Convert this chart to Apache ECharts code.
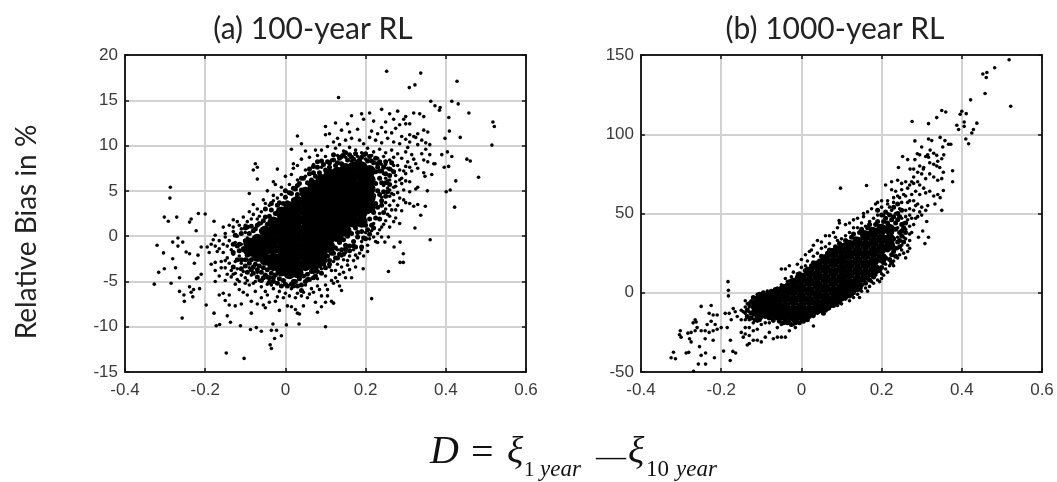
<!DOCTYPE html>
<html>
<head>
<meta charset="utf-8">
<title>Relative bias vs D</title>
<script src="https://cdn.jsdelivr.net/npm/echarts@6/dist/echarts.min.js"></script>
<style>
  html, body { margin: 0; padding: 0; background: #fff; }
  /* the reference is a soft scan */
  #chart { width: 1057px; height: 482px; filter: blur(0.4px); }
</style>
</head>
<body>
<div id="chart"></div>
<script>
// tick labels / ranges
const xTicks = [-0.4, 0.6, 0.2]
const yTicksA = [-15, 20, 5]
const yTicksB = [-50, 150, 50]
const titles = ['(a) 100-year RL', '(b) 1000-year RL']
const yName = 'Relative Bias in %'

// panel (a): single dots read from the sparse part of the cloud
const dotsA = [
  [.2525,18.2],[.3375,18],[.323,16.7],[.309,16.4],[.428,17.1],[.1325,15.3],[.3625,14.9],[.415,14.9],[.431,14.6],[.373,14.4],
  [.386,14.2],[.384,13.9],[.4575,13.6],[.5175,12.6],[.521,12.1],[.515,10.05],[.4075,13.1],[.409,11.6],[.436,10.9],[.398,10.8],
  [.404,9.3],[.415,8.8],[.39,9],[.4525,8.5],[.461,8.3],[.4817,6.5],[.425,6.1],[.396,7.6],[.407,7.7],[.373,8],[.365,6.8],[.348,6.6],
  [.354,5],[.401,4.9],[.411,5.1],[.422,3.2],[.349,3.3],[.3375,2.3],[.323,.9],[.361,-.4],[.257,-3.9],[.215,-6.9],[.194,-3.6],[.1,-10],
  [.286,-2.9],[.294,-2.9],[.294,-1.95],[.286,-.66],[.271,-1.2],[.248,-.66],[.257,-.1],
  [-.035,-12.4],[-.038,-12],[-.103,-13.5],[-.1475,-12.9],[-.027,-11.3],[-.01,-11],[.0025,-9.8],[.034,-9.7],[-.022,-10.4],[-.035,-10.4],
  [-.031,-9.7],[-.06,-10.5],[-.0725,-10.1],[-.087,-10.3],[-.112,-9.9],[-.137,-9.5],[-.164,-9.75],[-.1725,-9.9],[-.145,-8.8],[-.178,-8.5],
  [-.2575,-9.05],[-.1975,-7.6],[-.327,-5.3],[-.285,-5.2],[-.32,-1],[-.304,-1.85],[-.316,-4],[-.302,-3.6],[-.287,5.4],[-.288,4.2],
  [-.302,2.1],[-.292,1.65],[-.271,2.1],[-.239,1.55],[-.235,1.9],[-.217,2.5],[-.2,2.45],[-.178,1.65],[-.2225,.6],[-.281,-.66],
  [-.268,-.2],[-.256,-.66],[-.268,-1.1],[-.2475,-1.75],[-.239,-1.95],[-.281,-2.5],[-.274,-3.5],[-.264,-4.6],[-.264,-6.1],[-.253,-6.5],
  [-.252,-7.2],[-.239,-5.6],[-.235,-6.2],[-.229,-5.9],[-.231,-6.7],[-.214,-5.8],[-.218,-4.6],[-.222,-4.7],[-.21,-4.2],[-.227,-3],[-.218,-2.1],[-.21,-1.2],
  [.19,13.5],[.21,13.6],[.24,14],[.26,13.5],[.28,13.8],[.3,13.2],[.32,13.6],[.335,13.5],[.345,13.2],[.165,13.3],[.195,12.9],[.22,12.7],
  [.25,12.6],[.27,12.9],[.285,12.3],[.295,12.9],[.3,12.4],[.31,12.4],[.125,12.5],[.1,12.1],[.155,12.4],
  [.1,11.2],[.11,11.3],[.14,11.7],[.16,11.5],[.18,11.8],[.215,11.6],[.24,12],[.23,11.3],[.25,11.5],[.265,11.4],[.275,11.9],[.33,11.3],
  [.345,11.7],[.355,11.5],[.29,11],[.31,11.2],[.32,11],[.03,11.05],
  [.04,10.2],[.015,9.6],[.13,10.8],[.15,10.6],[.12,10.4],[.135,10.1],[.165,10.8],[.185,10.6],[.195,10.2],[.21,10.9],[.225,10.6],[.24,10.3],
  [.255,10.8],[.27,10.4],[.285,10.2],[.3,10.7],[.31,10.4],[.325,10.9],[.34,10.6],[.35,10.3],[.36,10.1],[.33,10.1],
  [.05,9.4],[.075,9.5],[.09,9.5],[.105,9.9],[.125,9.7],[.145,9.4],[.16,9.8],[.175,9.5],[.19,9.2],[.205,9.7],[.22,9.3],[.235,9.6],[.25,9.2],
  [.265,9.5],[.28,9.1],[.305,9.8],[.315,9],[.34,9.1],[.35,9.6],[.36,9],[.3,9.3],
  [.02,8],[.04,8.5],[.06,8.7],[.08,8.9],[.1,8.8],[.115,8.4],[.13,8.9],[.15,8.7],[.165,8.3],[.18,8.8],[.2,8.5],[.215,8.9],[.23,8.6],[.245,8.8],
  [.26,8.4],[.27,8.7],[.29,8.6],[.305,8.2],[.32,8.5],[.345,8.4],[.355,8.2],[.37,8],[.325,8],
  [-.07,7.6],[-.08,7.3],[-.075,8],[-.02,7.4],[.02,7.5],[.03,7.8],[.05,7.3],[.07,7.9],[.09,7.6],[.24,7.9],[.255,7.5],[.27,7.8],[.285,7.3],
  [.3,7.7],[.315,7.2],[.33,7.5],[.345,7],
  [-.07,6.3],[-.03,6],[-.025,5.7],[0,6.6],[.015,6.8],[.03,6.2],[.05,6.6],[.245,6.9],[.26,6.2],[.275,6.7],[.29,6.4],[.3,6.9],[.31,6],[.275,6],[.25,6.4],
  [-.09,4.7],[-.045,5],[-.03,4.5],[-.01,5.4],[.01,5.7],[.245,5.6],[.26,5.1],[.275,5.5],[.29,5.8],[.295,5.1],[.31,4.9],[.325,5.2],[.33,5.4],[.265,4.7],[.28,4.8],
  [-.08,3.5],[-.07,3],[-.055,4],[-.04,3.4],[-.02,4.2],[-.06,2.7],[.24,4.3],[.25,3.7],[.26,4.4],[.27,3.9],[.28,3.4],[.295,4],[.31,3.6],[.32,3.3],[.33,3.5],[.25,3],[.265,2.9],
  [-.12,1.6],[-.13,1.8],[-.105,2.1],[-.09,2.7],[-.1,1.2],[-.085,1.9],[-.07,1.9],[-.06,1.4],[-.155,1],[-.14,1.2],[-.11,.8],[.22,2.8],[.235,2.5],
  [.25,1.7],[.26,2.2],[.27,1.6],[.275,2],[.285,1.4],[.22,1.4],[.24,1],[.215,.6],[.23,.3],
  [-.175,.1],[-.15,.3],[-.13,.5],[-.12,0],[-.1,.4],[-.095,-.2],[-.165,-.5],[-.18,-.4],[-.185,-.9],[-.175,-1.1],[-.195,-1.2],[-.155,-.9],[-.14,-.5],
  [-.125,-.7],[-.11,-.9],[.2,.4],[.21,-.3],[.225,-.6],[.24,-.1],[.205,-1],[.19,-.6],
  [-.17,-1.7],[-.155,-1.8],[-.19,-1.8],[-.135,-1.5],[-.145,-2.4],[-.13,-2],[-.115,-2.2],[-.105,-1.6],[-.16,-2.8],[-.175,-2.9],[-.185,-3.1],[-.14,-3],
  [-.125,-2.8],[-.11,-3],[-.095,-2.6],[.13,-1.5],[.15,-1.8],[.17,-1.5],[.185,-1.9],[.16,-2.2],[.18,-2.4],[.17,-2.7],[.145,-2.6],[.195,-2.2],[.12,-2.8],
  [-.175,-3.8],[-.165,-4.4],[-.15,-3.5],[-.135,-3.8],[-.12,-3.6],[-.105,-3.9],[-.09,-3.5],[-.135,-4.5],[-.12,-4.8],[-.1,-4.6],[-.085,-4.3],[-.07,-4],[-.15,-4.9],
  [.07,-4],[.09,-3.6],[.11,-3.4],[.125,-3.8],[.14,-3.4],[.155,-3.2],[.1,-4.4],[.125,-4.6],[.15,-4.6],[.08,-4.7],[.135,-4.2],[.165,-4.6],
  [-.175,-5],[-.165,-6.5],[-.155,-6.3],[-.14,-6.5],[-.125,-5.3],[-.115,-5.9],[-.105,-6.2],[-.09,-5.4],[-.075,-5],[-.06,-5.6],[-.095,-6.5],[-.045,-5.3],
  [-.03,-5.8],[-.015,-6.1],[0,-6.3],[.015,-5.8],[.03,-6.3],[.05,-5.4],[.065,-5.8],[.08,-5.5],[.1,-5.4],[.12,-5.2],[.135,-5.5],[.14,-6],[.045,-6.2],[.09,-6.6],[.06,-6.4],
  [-.15,-7.1],[-.14,-7.6],[-.125,-7.7],[-.11,-7.5],[-.085,-7.2],[-.07,-7.5],[-.055,-7.6],[-.04,-7.3],[-.025,-7.2],[-.015,-8.2],[.005,-7.7],[.015,-7.8],
  [.025,-8.1],[.03,-8.5],[.045,-7.7],[.075,-7.3],[.09,-7.8],[.1,-7.3],[.115,-7.2],[.12,-7.4],[.035,-8.6],[.08,-8.4],[-.085,-8.5],[-.05,-7.9],
  [-.125,-4.1],[-.11,-4.3],[-.095,-4.9],[-.08,-5.2],[-.065,-4.9],[-.05,-6.1],[-.035,-5.4],[-.02,-6.7],[-.005,-6.8],[.01,-6.6],[.025,-6.8],[.04,-6.6],[.055,-6.8],[.07,-6.2],
  [.085,-5.9],[.105,-5.9],[.115,-4.9],[.13,-5],[.145,-4],[.16,-3.7],[.175,-3.4],[.105,-6.6],[-.075,-6.1],[-.06,-6.8],[-.045,-6.5],[-.1,-5.2],[-.115,-5],[-.13,-4.2],
  [-.145,-4.2],[-.16,-3.5],[-.15,-2.7],[-.165,-1.4],[-.145,-1.1],[-.15,-.1],[-.13,1],[-.115,1.2],[-.095,1.6],[-.08,2.4],[-.065,2.2],[-.05,3.6],[-.03,3.9],[-.01,4.6],
  [.25,7.9],[.265,7.3],[.28,7.8],[.295,7.2],[.31,7.6],[.255,6.1],[.27,5.4],[.285,6.2],[.3,6.1],[.255,5.3],[.27,4.6],[.285,4.2],[.3,3.7],[.26,3.4],[.275,2.9],[.29,2.8],
  [.255,2.4],[.245,1.3],[.26,1],[.235,.7],[.22,-.1],[.23,-.7],[.205,-1.7],[.19,-1.5],[.175,-2.1],[.155,-2.7],[.14,-2.2],[.13,-3.1],[.115,-3.8]
]

// panel (a): crowded dots hugging the solid middle
const crowdA = [
  [-.1,.9],[-.09,.3],[-.085,1.1],[-.075,.8],[-.065,1.4],[-.06,.6],[-.055,1.7],[-.045,1.3],[-.04,2.2],[-.035,2.9],[-.025,2.5],[-.02,3.4],[-.015,2.9],[-.005,3.6],
  [0,4.3],[.005,3.7],[.015,4.7],[.02,4],[.025,5.2],[.03,4.6],[.035,5.8],[.04,5.1],[.045,6.4],[.055,5.9],[.06,6.9],[.065,6.2],[.07,7],[.075,6.6],[.08,7.6],[.085,7],
  [.095,7.9],[.1,7.3],[.105,8.2],[.11,7.6],[.12,8.4],[.125,7.8],[.135,8.6],[.14,8],[.145,9],[.155,8.4],[.16,9],[.17,8.5],[.175,9.1],[.185,8.4],[.195,9],[.205,8.3],
  [.21,8.8],[.22,8.1],[.225,8.6],[.23,7.6],[.235,8.2],[.24,7.2],[.225,7.1],[.235,6.4],[.225,5.8],[.24,5.9],[.23,5],[.22,4.5],[.235,4.6],[.245,4.9],[.225,3.6],
  [.24,3.4],[.21,3.4],[.22,2.6],[.205,2.7],[.195,2],[.21,1.9],[.2,1.2],[.185,1.3],[.175,.9],[.19,.5],[.165,.3],[.18,-.1],[.155,0],[.17,-.6],[.145,-.4],[.16,-1.1],
  [.135,-.7],[.15,-1],[.125,-1.3],[.14,-1.5],[.115,-1.9],[.13,-2.4],[.105,-2.2],[.12,-1.9],[.095,-3.1],[.11,-2.7],[.085,-3.3],[.1,-3.5],[.075,-3.8],[.09,-4.1],
  [.065,-3.9],[.08,-3.9],[.055,-4.2],[.07,-4.6],[.045,-4.4],[.06,-4.8],[.035,-4.7],[.05,-5],[.025,-5],[.04,-5.4],[.015,-5.3],[.03,-5.5],[.005,-5.5],[.02,-5],
  [-.005,-4.9],[-.015,-4.7],[-.025,-4.3],[-.02,-5.2],[-.035,-4.1],[-.03,-5],[-.045,-3.7],[-.04,-4.6],[-.055,-3.5],[-.05,-4.3],[-.065,-3.3],[-.06,-4],[-.075,-3.1],
  [-.07,-3.7],[-.085,-2.6],[-.08,-3.4],[-.095,-2.1],[-.09,-3],[-.105,-1.4],[-.1,-2.6],[-.115,-.9],[-.1,-.5],[-.09,-.5],[-.085,-1.5],[-.1,-1.3],
  [.245,7.6],[.25,8.2],[.26,7.4],[.265,8.1],[.235,7.2],[.25,6.9],[.26,6.7],[.27,7.1],[.25,5.9],[.26,5.7],[.255,4.9],[.25,4.4],[.24,3.9],[.23,3.2],[.245,2.6],[.235,1.9],
  [.225,2],[.215,1.2],[.205,.7],[.18,.4],[.195,-.2],[.17,-1.1],[.15,-1.4],[.135,-2],[.125,-2.4],[.11,-3.1],[.09,-3],[.075,-4.4],[.055,-4.8],[.04,-6],[.02,-5.5],
  [0,-5.3],[-.01,-5.5],[-.03,-4.6],[-.04,-5.1],[-.055,-4.6],[-.07,-4.5],[-.085,-3.7],[-.1,-3.3],[-.11,-2.6],[-.115,-1.6],[-.12,-1.1],[-.125,.1],[-.11,.3],[-.095,1],
  [-.08,.6],[-.07,1.2],[-.05,2.1],[-.05,3],[-.035,3.6],[-.015,3.7],[0,5],[.01,4.8],[.02,5.3],[.03,5.6],[.04,6.4],[.06,7.4],[.07,7.7],[.08,8.2],[.09,8.3],[.11,8.1],
  [.12,9],[.13,8.1],[.14,8.8],[.15,9.2],[.165,8.7],[.18,8.2],[.19,8.7],[.2,9.1],[.215,8.3],[.23,8],[-.13,-.9],[-.13,-1.8],[-.12,-2.6],[-.13,-3.4],[-.11,-3.6],[-.095,-4],
  [-.08,-4.1],[-.06,-4.9],[-.045,-4.5],[.145,-2],[.16,-1.6],[.175,-1.2],[.19,-1.2],[.2,-.3],[.21,.2],[.22,.9]
]

// panel (a): the solid black middle of the cloud, too dense to read dot by dot
const denseA = [
  [-.09,-.8],[-.09,-1.6],[-.07,-.4],[-.07,-1.4],[-.07,-2.2],[-.05,.5],[-.05,-.5],[-.05,-1.5],[-.05,-2.6],
  [-.03,1.5],[-.03,.6],[-.03,-.4],[-.03,-1.4],[-.03,-2.5],[-.03,-3.2],
  [-.01,2.6],[-.01,1.6],[-.01,.6],[-.01,-.4],[-.01,-1.4],[-.01,-2.4],[-.01,-3.4],[-.01,-3.8],
  [.01,3.2],[.01,2.3],[.01,1.3],[.01,.3],[.01,-.7],[.01,-1.7],[.01,-2.7],[.01,-3.7],[.01,-4.1],
  [.03,3.8],[.03,2.8],[.03,1.8],[.03,.8],[.03,-.2],[.03,-1.2],[.03,-2.2],[.03,-3.2],[.03,-4],
  [.05,4.8],[.05,3.8],[.05,2.8],[.05,1.8],[.05,.8],[.05,-.2],[.05,-1.2],[.05,-2.2],[.05,-3.2],
  [.07,5.6],[.07,4.6],[.07,3.6],[.07,2.6],[.07,1.6],[.07,.6],[.07,-.4],[.07,-1.4],[.07,-2.4],[.07,-3.2],
  [.09,6.2],[.09,5.2],[.09,4.2],[.09,3.2],[.09,2.2],[.09,1.2],[.09,.2],[.09,-.8],[.09,-1.8],[.09,-2.6],
  [.11,6.8],[.11,5.8],[.11,4.8],[.11,3.8],[.11,2.8],[.11,1.8],[.11,.8],[.11,-.2],[.11,-1.2],
  [.13,7],[.13,6],[.13,5],[.13,4],[.13,3],[.13,2],[.13,1],[.13,0],
  [.15,7.4],[.15,6.4],[.15,5.4],[.15,4.4],[.15,3.4],[.15,2.4],[.15,1.4],[.15,.6],
  [.17,7.6],[.17,6.6],[.17,5.6],[.17,4.6],[.17,3.6],[.17,2.6],[.17,1.6],
  [.19,7.6],[.19,6.6],[.19,5.6],[.19,4.6],[.19,3.6],[.19,2.6],[.19,1.6],
  [.21,7.2],[.21,6.2],[.21,5.2],[.21,4.2],[.21,3.2]
]

// panel (b): single dots
const dotsB = [
  [.518,147],[.482,142],[.4625,139],[.4525,138],[.461,135.8],[.458,125.7],[.522,117.7],[.422,121.7],[.35,115],[.36,114],[.3375,110.5],[.317,106.7],[.276,108],
  [.4,114.5],[.396,112.6],[.411,113],[.406,107.7],[.406,105],[.4375,107],[.3875,105.7],[.392,103],[.429,103],[.425,100.8],[.41,97],[.417,94],[.283,95.8],
  [.317,97],[.325,96],[.346,98],[.358,96],[.367,93.7],[.3525,92],[.3725,93.7],[.321,90],[.289,87.7],[.2525,86],[.283,84],[.317,85.5],[.3375,86.7],[.35,84.5],
  [.242,79],[.271,78],[.304,78],[.377,77],[.377,70],[.354,76],[.3375,80],[.0975,66],[.1625,67.7],[.354,64.5],[.346,60],[.35,52],[.333,56],[.3125,45],[.3025,39],
  [.292,35],[.317,35],[.308,31],[.094,45.6],
  [-.325,-41],[-.314,-41.6],[-.319,-37.5],[-.302,-24],[-.3,-28],[-.304,-26.5],[-.283,-25.5],[-.279,-29],[-.275,-31],[-.2875,-38],[-.281,-37.6],[-.269,-49.5],
  [-.257,-45],[-.239,-45],[-.254,-34],[-.25,-39.5],[-.239,-38],[-.217,-41],[-.1775,-42.7],[-.194,-36.8],[-.171,-37],[-.164,-38],[-.177,-30],[-.183,7],[-.182,1.5],
  [-.182,-2],[-.25,-8.6],[-.225,-8],[-.2625,-18.5],
  [.21,68],[.225,70],[.24,71],[.25,69],[.26,70],[.225,65],[.235,64],[.25,65],[.265,66],[.27,68],[.275,70],[.28,69],[.29,70],[.295,68],[.305,66],[.31,63],[.285,64],
  [.295,62],[.32,64],[.33,61],[.34,62],[.275,62],[.26,61],[.245,60],[.23,60],[.215,58],[.2,58],[.19,57],[.185,56],[.2,54],[.215,56],[.25,57],[.265,57],[.28,58],
  [.29,56],[.3,54],[.31,52],[.315,55],[.295,51],[.28,52],[.27,53],[.26,52],[.245,53],[.235,50],[.225,52],[.175,53],[.165,51],[.155,50],[.155,48],[.14,47],[.13,46],
  [.12,44],[.11,43],[.095,44],[.09,41],[.08,38],[.07,36],[.06,36],[.05,32],[.04,33],[.03,30],[.02,26],[.01,24],[.025,27],[0,21],[-.01,18],[-.03,17],[-.04,15],[-.05,15],
  [.3,92],[.31,86],[.32,82],[.33,81],[.34,83],[.345,79],[.35,72],[.34,71],[.33,73],[.32,75],[.31,72],[.3,75],[.29,76],[.28,73],[.305,79],[.295,80],[.33,88],[.315,87],
  [.355,87],[.295,87],[.265,84],[.28,78],
  [.27,28],[.265,26],[.255,25],[.26,22],[.245,24],[.24,28],[.25,30],[.255,35],[.27,37],[.26,40],[.27,42],[.255,44],[.24,41],[.25,47],[.26,48],[.27,49],[.265,46],[.24,35],
  [.23,20],[.22,17],[.21,15],[.2,12],[.2,9],[.21,18],[.19,8],[.185,11],[.175,7],[.17,4],[.16,3],[.15,1],[.14,-1],[.13,-3],[.12,-5],[.11,-4],[.1,-7],[.09,-8],[.08,-6],
  [.07,-10],[.06,-9],[.05,-12],[.04,-13],[.02,-14],[.03,-15],[.01,-16],[0,-17],[-.01,-18],[-.02,-20],[-.03,-18],[-.05,-20],[-.06,-22],[-.03,-24],[-.04,-28],[-.05,-28],
  [-.06,-28],[-.07,-29],[-.015,-22],[.03,-21],[-.08,-25],[-.09,-28],[-.1,-31],[-.11,-30],[-.12,-30],[-.13,-32],[-.135,-33],[-.145,-28],[-.15,-25],[-.14,-26],[-.13,-27],
  [-.12,-24],[-.11,-23],[-.1,-20],[-.09,-19],[-.08,-19],[-.07,-18],[-.13,-22],[-.14,-22],[-.12,-19],[-.11,-18],[-.1,-16],[-.15,-17],[-.14,-17],[-.13,-17],[-.12,-14],
  [-.14,-13],[-.15,-11],[-.14,-9],[-.13,-9],[-.12,-8],[-.14,-5],[-.135,-7],[-.125,-5],[-.11,-5],[-.11,-1],[-.1,-2],[-.12,-11],[-.13,-12],[-.145,-12],[-.16,-15],[-.165,-12],
  [-.17,-10],[-.18,-13],[-.19,-13],[-.175,-17],[-.185,-22],[-.2,-22],[-.21,-14],[-.22,-14],[-.23,-13],[-.215,-20],[-.225,-18],[-.235,-20],[-.24,-24],[-.25,-24],[-.22,-24],
  [-.265,-17],[-.27,-19],[-.26,-22],[-.23,-25],[-.21,-23],[-.22,-30],[-.24,-29],[-.265,-24],[-.275,-25],
  [-.1,-1],[-.085,1],[-.07,1],[-.06,3],[-.05,5],[-.04,9],[-.035,7],[-.025,10],[-.02,13],[-.01,12],[0,16],[.01,17],[.015,20],[.03,23],[.04,25],[.05,28],[.06,29],[.07,31],
  [.075,27],[.085,35],[.09,33],[.1,34],[.11,36],[.12,38],[.13,41],[.14,41],[.15,44],[.16,42],[.17,45],[.18,47],[.19,49],
  [.205,49],[.215,50],[.22,54],[.23,57],[.24,61],[.255,62],[.27,58],[.275,47],[.28,43],[.275,38],[.27,33],[.265,30],[.26,34],[.25,27],[.24,22],[.23,17],[.215,13],[.205,11],
  [.195,7],[.18,6],[.165,1],[.145,-3],[.285,55],[.29,48],[.3,49],[.285,47]
]

// panel (b): crowded dots along the edges of the band
const crowdB = [
  [-.125,-6],[-.12,-3],[-.115,-9],[-.11,-3],[-.105,-1],[-.095,0],[-.09,-2],[-.085,-1],[-.075,1],[-.07,-1],[-.065,2],[-.055,1],[-.05,3],[-.045,4],[-.035,5],[-.03,7],[-.025,6],
  [-.015,8],[-.01,10],[-.005,12],[.005,11],[.01,14],[.015,15],[.025,17],[.03,19],[.035,18],[.045,20],[.05,23],[.055,22],[.065,25],[.07,27],[.075,26],[.085,29],[.09,28],
  [.095,31],[.105,30],[.11,33],[.115,32],[.125,35],[.13,37],[.135,34],[.145,38],[.15,40],[.155,38],[.165,41],[.17,43],[.175,40],[.185,43],[.19,45],[.195,42],[.205,45],
  [.21,47],[.215,44],[.225,46],[.23,48],[.235,44],[.24,46],[.245,48],[.25,43],[.245,38],[.235,40],[.225,38],[.23,34],[.24,32],[.235,28],[.245,33],[.25,39],[.225,32],
  [.23,26],[.225,24],[.215,27],[.22,21],[.21,22],[.2,16],[.205,19],[.195,14],[.19,16],[.18,10],[.185,14],[.17,8],[.175,11],[.16,6],[.165,9],[.15,5],[.155,8],[.14,2],
  [.145,3],[.13,0],[.135,2],[.12,-2],[.125,-1],[.11,-3],[.115,-1],[.1,-4],[.105,-2],[.09,-5],[.095,-6],[.08,-8],[.085,-7],[.07,-7],[.075,-8],[.06,-11],[.065,-10],
  [.05,-10],[.055,-13],[.04,-12],[.045,-11],[.03,-14],[.035,-12],[.02,-15],[.025,-13],[.01,-15],[.015,-17],[0,-16],[.005,-18],[-.01,-16],[-.005,-19],[-.02,-17],[-.015,-19],
  [-.03,-16],[-.025,-20],[-.04,-17],[-.035,-19],[-.05,-16],[-.045,-19],[-.06,-16],[-.055,-18],[-.07,-17],[-.065,-15],[-.08,-16],[-.075,-14],[-.09,-15],[-.085,-13],[-.1,-14],
  [-.095,-12],[-.11,-15],[-.105,-13],[-.115,-12],[-.12,-9],[-.125,-13],[-.13,-7],[-.135,-11],[-.125,-16],[-.135,-15],[-.115,-17],[-.105,-17],[-.095,-7],[-.09,-6],
  [.255,32],[.26,38],[.255,41],[.25,52],[.24,56],[.23,54],[.22,49],[.21,51],[.2,49],[.19,52],[.24,50],[.26,44],[.25,36],[.245,29],[.235,23],[.225,19]
]

// panel (b): solid black band
const denseB = [
  [-.11,-7],[-.11,-12],[-.1,-5],[-.1,-11],[-.08,-3],[-.08,-8],[-.08,-13],[-.06,-2],[-.06,-7],[-.06,-12],
  [-.04,2],[-.04,-3],[-.04,-9],[-.04,-13],[-.02,6],[-.02,1],[-.02,-5],[-.02,-11],[-.02,-14],
  [0,9],[0,3],[0,-3],[0,-9],[0,-14],[.02,13],[.02,7],[.02,1],[.02,-5],[.02,-11],
  [.04,17],[.04,11],[.04,5],[.04,-1],[.04,-7],[.04,-10],[.06,21],[.06,15],[.06,9],[.06,3],[.06,-3],[.06,-8],
  [.08,25],[.08,19],[.08,13],[.08,7],[.08,1],[.08,-5],[.1,27],[.1,21],[.1,15],[.1,9],[.1,3],[.1,-2],
  [.12,30],[.12,24],[.12,18],[.12,12],[.12,6],[.12,1],[.14,32],[.14,26],[.14,20],[.14,14],[.14,8],[.14,4],
  [.16,36],[.16,30],[.16,24],[.16,18],[.16,12],[.18,38],[.18,32],[.18,26],[.18,20],[.18,14],
  [.2,40],[.2,34],[.2,28],[.2,22],[.22,40],[.22,34],[.22,30]
]

const chart = echarts.init(document.getElementById('chart'))

const tickFont = { fontFamily: 'Liberation Sans', fontSize: 17, color: '#3a3a3a' }
const boxLine = { show: true, onZero: false, lineStyle: { color: '#222', width: 2 } }
const boxTick = { show: true, inside: true, length: 4, lineStyle: { color: '#111', width: 1.5 } }

// plain bottom/left axes plus label-less top/right ones for the matlab style box
const makeXAxes = (gridIndex) => [false, true].map((mirror) => ({
  type: 'value',
  gridIndex,
  position: mirror ? 'top' : 'bottom',
  min: xTicks[0], max: xTicks[1], interval: xTicks[2],
  axisLine: boxLine,
  axisTick: boxTick,
  axisLabel: { show: !mirror, margin: 10, ...tickFont },
  splitLine: { show: !mirror, lineStyle: { color: '#d2d2d2', width: 2 } }
}))

const makeYAxes = (gridIndex, ticks) => [false, true].map((mirror) => ({
  type: 'value',
  gridIndex,
  position: mirror ? 'right' : 'left',
  min: ticks[0], max: ticks[1], interval: ticks[2],
  axisLine: boxLine,
  axisTick: boxTick,
  axisLabel: { show: !mirror, margin: 7, ...tickFont },
  splitLine: { show: !mirror, lineStyle: { color: '#d2d2d2', width: 2 } }
}))

const makeSeries = (data, axisIndex, size) => ({
  type: 'scatter',
  xAxisIndex: axisIndex,
  yAxisIndex: axisIndex,
  data,
  symbolSize: size,
  silent: true,
  itemStyle: { color: '#000', opacity: 1 }
})

// formula under the panels, as separate pieces so the subscripts can drop
const formulaPiece = (text, x, y, fontSize, fontStyle) => ({
  type: 'text', x, y,
  style: { text, fontFamily: 'Liberation Serif', fontSize, fontStyle: fontStyle || 'normal', fill: '#111', textVerticalAlign: 'bottom' }
})

const titleStyle = { fontFamily: 'Lato', fontSize: 30, fontWeight: 'normal', color: '#222' }

chart.setOption({
  animation: false,
  backgroundColor: '#fff',
  title: [
    { text: titles[0], left: 308, top: 9, textAlign: 'center', textStyle: titleStyle },
    { text: titles[1], left: 830, top: 9, textAlign: 'center', textStyle: titleStyle }
  ],
  grid: [
    { left: 125, top: 55, width: 401, height: 317 },
    { left: 641, top: 55, width: 401, height: 317 }
  ],
  xAxis: [...makeXAxes(0), ...makeXAxes(1)],
  yAxis: [...makeYAxes(0, yTicksA), ...makeYAxes(1, yTicksB)],
  series: [
    makeSeries(dotsA, 0, 3.6),
    makeSeries(crowdA, 0, 5),
    makeSeries(denseA, 0, 12),
    makeSeries(dotsB, 2, 3.6),
    makeSeries(crowdB, 2, 5),
    makeSeries(denseB, 2, 11)
  ],
  graphic: [
    {
      type: 'text', x: 27, y: 232, rotation: Math.PI / 2,
      style: { text: yName, fontFamily: 'Lato', fontSize: 28, fill: '#222', textAlign: 'center', textVerticalAlign: 'middle' }
    },
    formulaPiece('D', 430, 472, 40, 'italic'),
    formulaPiece('=', 471, 474, 40),
    formulaPiece('ξ', 507, 472, 38, 'italic'),
    formulaPiece('1', 524, 481, 21),
    formulaPiece('year', 540, 481, 23, 'italic'),
    formulaPiece('—', 596, 473, 30),
    formulaPiece('ξ', 628, 472, 38, 'italic'),
    formulaPiece('10', 646, 481, 23),
    formulaPiece('year', 676, 481, 23, 'italic')
  ]
})
</script>
</body>
</html>
